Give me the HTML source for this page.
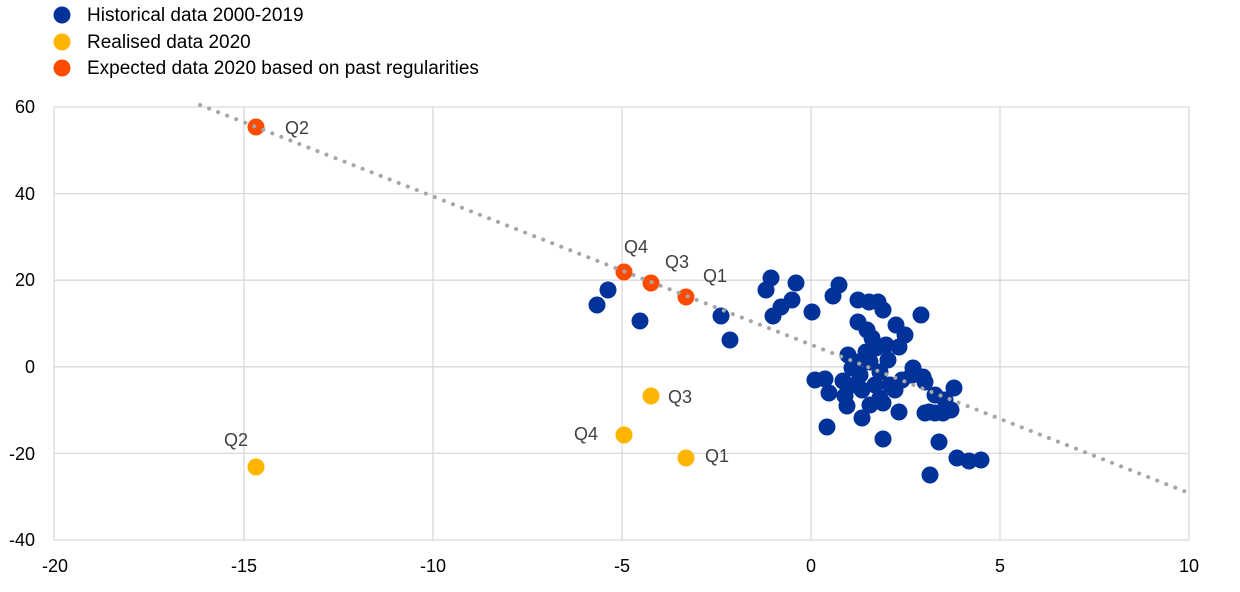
<!DOCTYPE html>
<html><head><meta charset="utf-8"><style>
html,body{margin:0;padding:0;background:#fff;}
svg{display:block;font-family:"Liberation Sans",Arial,sans-serif;}
</style></head><body>
<svg width="1240" height="592" viewBox="0 0 1240 592" xmlns="http://www.w3.org/2000/svg">
<g stroke="#d9d9d9" stroke-width="1.3">
<line x1="54" y1="107" x2="1189" y2="107"/><line x1="54" y1="193.6" x2="1189" y2="193.6"/>
<line x1="54" y1="280.2" x2="1189" y2="280.2"/><line x1="54" y1="366.8" x2="1189" y2="366.8"/>
<line x1="54" y1="453.4" x2="1189" y2="453.4"/><line x1="54" y1="540" x2="1189" y2="540"/>
<line x1="54" y1="107" x2="54" y2="540"/><line x1="244" y1="107" x2="244" y2="540"/>
<line x1="433" y1="107" x2="433" y2="540"/><line x1="622" y1="107" x2="622" y2="540"/>
<line x1="811" y1="107" x2="811" y2="540"/><line x1="1000" y1="107" x2="1000" y2="540"/>
<line x1="1189" y1="107" x2="1189" y2="540"/>
</g>
<g fill="#000" font-size="18">
<g text-anchor="end"><text x="35" y="113">60</text><text x="35" y="200">40</text><text x="35" y="286">20</text><text x="35" y="373">0</text><text x="35" y="460">-20</text><text x="35" y="546">-40</text></g>
<g text-anchor="middle"><text x="55" y="572">-20</text><text x="244" y="572">-15</text><text x="433" y="572">-10</text><text x="622" y="572">-5</text><text x="811" y="572">0</text><text x="1000" y="572">5</text><text x="1189" y="572">10</text></g>
</g>
<g fill="#003299">
<circle cx="839" cy="285" r="8.5"/><circle cx="833" cy="296" r="8.5"/><circle cx="812" cy="312" r="8.5"/>
<circle cx="858" cy="300" r="8.5"/><circle cx="869" cy="302" r="8.5"/><circle cx="878" cy="302" r="8.5"/><circle cx="883" cy="310" r="8.5"/>
<circle cx="921" cy="315" r="8.5"/><circle cx="858" cy="322" r="8.5"/><circle cx="867" cy="330" r="8.5"/><circle cx="872" cy="338" r="8.5"/>
<circle cx="896" cy="325" r="8.5"/><circle cx="905" cy="335" r="8.5"/><circle cx="899" cy="347" r="8.5"/><circle cx="876" cy="348" r="8.5"/>
<circle cx="886" cy="345" r="8.5"/><circle cx="855" cy="362" r="8.5"/><circle cx="848" cy="355" r="8.5"/><circle cx="815" cy="380" r="8.5"/>
<circle cx="825" cy="379" r="8.5"/><circle cx="843" cy="381" r="8.5"/><circle cx="829" cy="393" r="8.5"/><circle cx="845" cy="396" r="8.5"/>
<circle cx="847" cy="406" r="8.5"/><circle cx="862" cy="418" r="8.5"/><circle cx="870" cy="405" r="8.5"/><circle cx="883" cy="403" r="8.5"/>
<circle cx="895" cy="390" r="8.5"/><circle cx="902" cy="380" r="8.5"/><circle cx="912" cy="375" r="8.5"/><circle cx="925" cy="382" r="8.5"/>
<circle cx="913" cy="368" r="8.5"/><circle cx="923" cy="377" r="8.5"/><circle cx="935" cy="395" r="8.5"/><circle cx="951" cy="410" r="8.5"/>
<circle cx="945" cy="400" r="8.5"/><circle cx="929" cy="412" r="8.5"/><circle cx="925" cy="413" r="8.5"/><circle cx="935" cy="413" r="8.5"/>
<circle cx="943" cy="413" r="8.5"/><circle cx="899" cy="412" r="8.5"/><circle cx="880" cy="398" r="8.5"/>
<circle cx="860" cy="375" r="8.5"/><circle cx="870" cy="362" r="8.5"/><circle cx="880" cy="372" r="8.5"/><circle cx="862" cy="390" r="8.5"/><circle cx="875" cy="385" r="8.5"/>
<circle cx="852" cy="368" r="8.5"/><circle cx="866" cy="352" r="8.5"/><circle cx="888" cy="360" r="8.5"/><circle cx="855" cy="385" r="8.5"/><circle cx="890" cy="385" r="8.5"/>
<circle cx="827" cy="427" r="8.5"/><circle cx="883" cy="439" r="8.5"/><circle cx="939" cy="442" r="8.5"/><circle cx="957" cy="458" r="8.5"/>
<circle cx="969" cy="461" r="8.5"/><circle cx="981" cy="460" r="8.5"/><circle cx="930" cy="475" r="8.5"/><circle cx="954" cy="388" r="8.5"/>
<circle cx="597" cy="305" r="8.5"/><circle cx="608" cy="290" r="8.5"/><circle cx="640" cy="321" r="8.5"/><circle cx="721" cy="316" r="8.5"/>
<circle cx="730" cy="340" r="8.5"/><circle cx="766" cy="290" r="8.5"/><circle cx="771" cy="278" r="8.5"/><circle cx="773" cy="316" r="8.5"/>
<circle cx="781" cy="307" r="8.5"/><circle cx="792" cy="300" r="8.5"/><circle cx="796" cy="283" r="8.5"/>
</g>
<g fill="#ff4b00">
<circle cx="256" cy="127" r="8.5"/><circle cx="624" cy="272" r="8.5"/><circle cx="651" cy="283" r="8.5"/><circle cx="686" cy="297" r="8.5"/>
</g>
<g fill="#ffb400">
<circle cx="256" cy="467" r="8.5"/><circle cx="624" cy="435" r="8.5"/><circle cx="651" cy="396" r="8.5"/><circle cx="686" cy="458" r="8.5"/>
</g>
<line x1="200" y1="105" x2="1189" y2="493" stroke="#a6a6a6" stroke-width="4" stroke-dasharray="0.1 9.6" stroke-linecap="round"/>
<g fill="#404040" font-size="18">
<text x="285" y="134">Q2</text><text x="624" y="253">Q4</text><text x="665" y="268">Q3</text><text x="703" y="282">Q1</text>
<text x="224" y="446">Q2</text><text x="574" y="440">Q4</text><text x="668" y="403">Q3</text><text x="705" y="462">Q1</text>
</g>
<circle cx="62" cy="15" r="8.5" fill="#003299"/><circle cx="62" cy="42" r="8.5" fill="#ffb400"/><circle cx="62" cy="68" r="8.5" fill="#ff4b00"/>
<g fill="#000" font-size="19">
<text x="87" y="21">Historical data 2000-2019</text>
<text x="87" y="48">Realised data 2020</text>
<text x="87" y="74">Expected data 2020 based on past regularities</text>
</g>
</svg>
</body></html>
